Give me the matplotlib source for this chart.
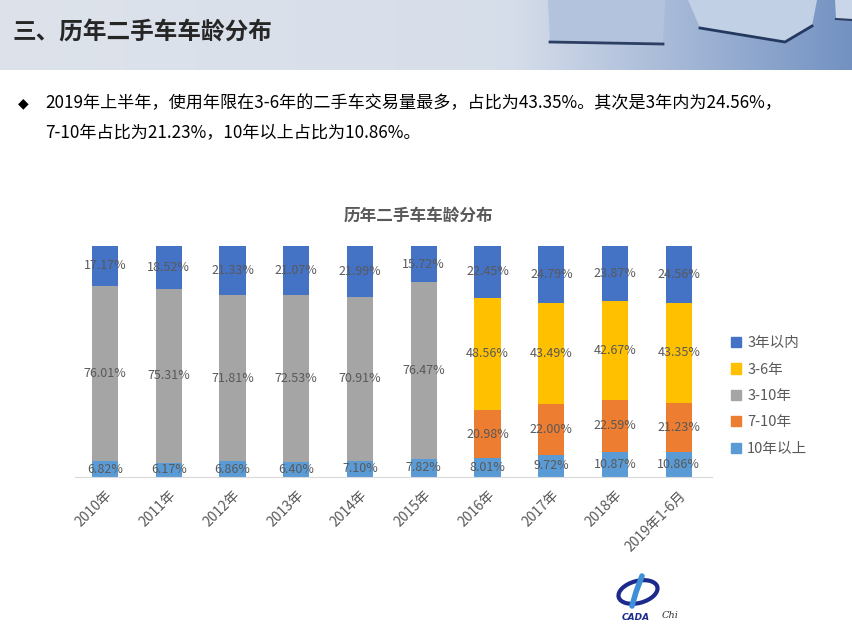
import numpy as np
import matplotlib.pyplot as plt
from matplotlib.patches import Patch, Polygon, Ellipse

plt.rcParams['font.family'] = ['Noto Sans CJK SC', 'DejaVu Sans']

years = ['2010年', '2011年', '2012年', '2013年', '2014年', '2015年',
         '2016年', '2017年', '2018年', '2019年1-6月']
under3 = [17.17, 18.52, 21.33, 21.07, 21.99, 15.72, 22.45, 24.79, 23.87, 24.56]
y3to6 = [0, 0, 0, 0, 0, 0, 48.56, 43.49, 42.67, 43.35]
y3to10 = [76.01, 75.31, 71.81, 72.53, 70.91, 76.47, 0, 0, 0, 0]
y7to10 = [0, 0, 0, 0, 0, 0, 20.98, 22.00, 22.59, 21.23]
over10 = [6.82, 6.17, 6.86, 6.40, 7.10, 7.82, 8.01, 9.72, 10.87, 10.86]

W, H = 852, 626
fig = plt.figure(figsize=(W / 100, H / 100), dpi=100)
fig.patch.set_facecolor('white')

# header band (background picture approximated)
hax = fig.add_axes([0, 1 - 70 / H, 1, 70 / H])
grad = np.linspace(0, 1, 400)
c0 = np.array([0.87, 0.89, 0.92])
c1 = np.array([0.84, 0.87, 0.92])
c2 = np.array([0.45, 0.57, 0.76])
cols = np.where(grad[:, None] < 0.6, c0 + (c1 - c0) * (grad[:, None] / 0.6),
                c1 + (c2 - c1) * ((grad[:, None] - 0.6) / 0.4))
img = np.tile(cols[None, :, :], (20, 1, 1))
hax.imshow(img, aspect='auto', extent=[0, W, 70, 0])
hax.add_patch(Polygon([[548, 0], [665, 0], [663, 44], [550, 42]], closed=True,
                      facecolor='#b3c3dd', edgecolor='none'))
hax.plot([550, 663], [42, 44], color='#2c3f63', lw=2)
hax.add_patch(Polygon([[688, 0], [817, 0], [812, 26], [785, 42], [700, 28]], closed=True,
                      facecolor='#c2d0e6', edgecolor='none'))
hax.plot([700, 785, 812], [28, 42, 26], color='#23395f', lw=2)
hax.add_patch(Polygon([[835, 0], [852, 0], [852, 20], [836, 19]], closed=True,
                      facecolor='#c9d5e8', edgecolor='none'))
hax.plot([836, 852], [19, 20], color='#2c3f63', lw=1.5)
hax.set_xlim(0, W)
hax.set_ylim(70, 0)
hax.axis('off')

fig.text(12 / W, 1 - 33 / H, '三、历年二手车车龄分布', fontsize=17, fontweight='bold',
         color='#262626', va='center', ha='left')

# bullet text
fig.text(18 / W, 1 - 103 / H, '◆', fontsize=10, color='#000000', va='center',
         family=['DejaVu Sans'])
fig.text(45 / W, 1 - 103 / H,
         '2019年上半年，使用年限在3-6年的二手车交易量最多，占比为43.35%。其次是3年内为24.56%，',
         fontsize=12.3, color='#000000', va='center', ha='left')
fig.text(45 / W, 1 - 133 / H, '7-10年占比为21.23%，10年以上占比为10.86%。',
         fontsize=12.3, color='#000000', va='center', ha='left')

# chart
ax = fig.add_axes([75 / W, 1 - 477 / H, 637 / W, 231 / H])
x = np.arange(len(years))
bw = 0.41
series = [
    ('10年以上', over10, '#5B9BD5'),
    ('7-10年', y7to10, '#ED7D31'),
    ('3-10年', y3to10, '#A5A5A5'),
    ('3-6年', y3to6, '#FFC000'),
    ('3年以内', under3, '#4472C4'),
]
bottom = np.zeros(len(years))
for name, vals, col in series:
    vals = np.array(vals, dtype=float)
    ax.bar(x, vals, bw, bottom=bottom, color=col, edgecolor='none')
    for i, v in enumerate(vals):
        if v > 0:
            ax.text(x[i], bottom[i] + v / 2, f'{v:.2f}%', ha='center', va='center',
                    fontsize=9, color='#595959')
    bottom += vals

ax.set_xlim(-0.47, 9.52)
ax.set_ylim(0, 100)
for s in ['top', 'right', 'left']:
    ax.spines[s].set_visible(False)
ax.spines['bottom'].set_color('#d9d9d9')
ax.set_yticks([])
ax.set_xticks(x)
ax.set_xticklabels(years, rotation=45, ha='right', rotation_mode='anchor',
                   fontsize=10, color='#595959')
ax.tick_params(axis='x', length=0, pad=8)

fig.text(418 / W, 1 - 216 / H, '历年二手车车龄分布', fontsize=12, fontweight='bold',
         color='#595959', ha='center', va='center')

handles = [Patch(color=c, label=n) for n, _, c in series[::-1]]
fig.legend(handles=handles, loc='center left', bbox_to_anchor=(718 / W, 1 - 396 / H),
           frameon=False, fontsize=10.5, labelcolor='#595959', handlelength=0.7,
           handleheight=0.7, handletextpad=0.4, labelspacing=0.85)

# small logo at the bottom
lax = fig.add_axes([0, 0, 1, 1], facecolor='none')
lax.set_xlim(0, W)
lax.set_ylim(H, 0)
lax.axis('off')
lax.add_patch(Ellipse((638, 592), 40, 22, angle=-15, fill=False, edgecolor='#1c2a8c', lw=3))
lax.plot([642, 636, 632], [576, 592, 606], color='#3f8fd8', lw=4, solid_capstyle='round')
lax.text(636, 617, 'CADA', fontsize=6.5, fontweight='bold', fontstyle='italic',
         color='#1c2a8c', ha='center', va='center', family=['DejaVu Sans'])
lax.text(670, 616, 'Chi', fontsize=7, fontstyle='italic', color='#333333',
         ha='center', va='center', family=['DejaVu Serif'])

fig.savefig('out.png', dpi=100)
